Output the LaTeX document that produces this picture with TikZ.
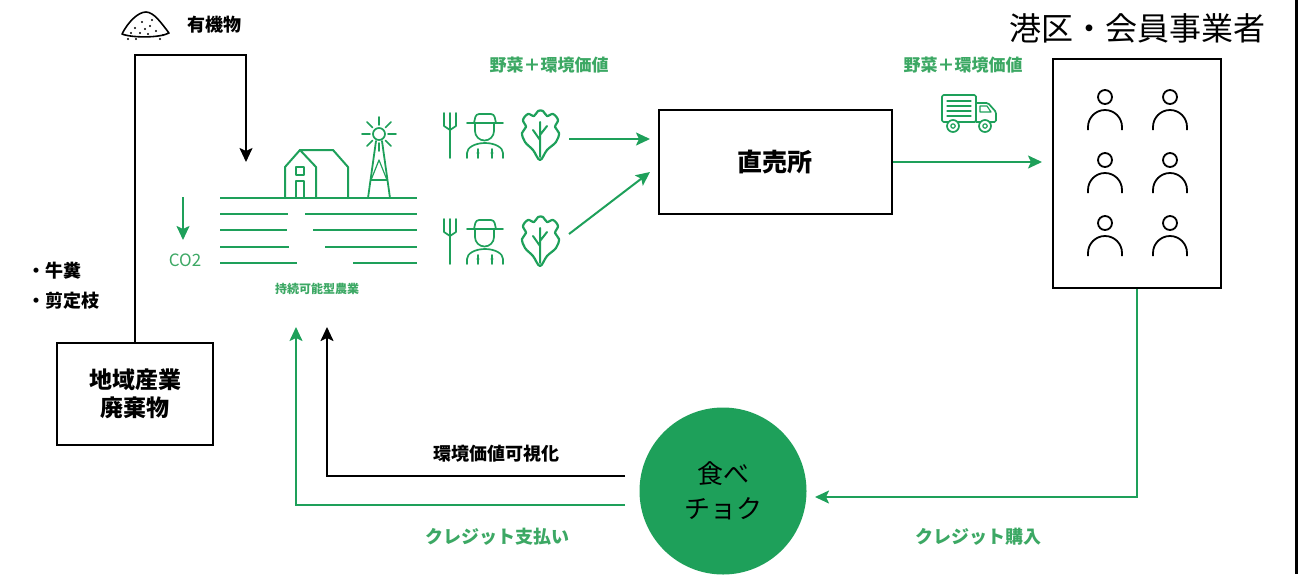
\documentclass[tikz,border=0pt]{standalone}
\usepackage{fontspec}
\newfontfamily\jp{Noto Sans CJK JP}
\usetikzlibrary{arrows.meta}

\definecolor{leaf}{RGB}{30,160,90}
\definecolor{leaftext}{RGB}{60,168,100}

\begin{document}
\begin{tikzpicture}[x=1pt,y=-1pt,
  box/.style={draw,line width=2pt,inner sep=0pt,align=center},
  flow/.style={line width=2pt,-{Stealth[length=14pt,width=13pt,inset=3pt]}},
  icon/.style={leaf,line width=1.7pt,line cap=round,line join=round},
  field/.style={leaf,line width=2.6pt},
  person/.style={line width=1.8pt,line cap=butt},
  lbl/.style={font=\jp\bfseries\fontsize{18}{20}\selectfont},
  glbl/.style={lbl,leaftext}]
\useasboundingbox (0,0) rectangle (1300,574);

% Frame edge
\draw[line width=3pt] (1296,0) -- (1296,574);

% Title
\node[font=\jp\fontsize{32}{36}\selectfont] (title) at (1137,28) {港区・会員事業者};

% Boxes
\node[box,minimum width=156pt,minimum height=102pt,font=\jp\bfseries\fontsize{23}{28}\selectfont] (waste) at (135,394) {地域産業\\廃棄物};
\node[box,minimum width=233pt,minimum height=104pt,font=\jp\bfseries\fontsize{25}{28}\selectfont] (shop) at (775,162) {直売所};
\node[box,minimum width=168pt,minimum height=229pt] (members) at (1137,173.5) {};
\node[circle,fill=leaf,minimum size=167pt,inner sep=0pt,align=center,font=\jp\fontsize{26}{35}\selectfont] (tabechoku) at (723,491) {食べ\\チョク};

% Organic matter pile
\draw[line width=1.6pt,line join=round] (122,34) .. controls (128,22) and (138,12) .. (146,12) .. controls (154,12) and (162,24) .. (169,33) .. controls (160,38) and (132,38) .. cycle;
\foreach \p in {(135,28),(142,22),(150,26),(156,31),(140,33),(148,34),(128,39),(160,39),(145,29),(152,20),(131,33),(163,35),(136,39)}
  \fill \p circle (1.2);
\node[lbl] (organiclbl) at (214,25) {有機物};
\node[lbl,anchor=west] (dung) at (24,271) {・牛糞};
\node[lbl,anchor=west] (prune) at (24,301) {・剪定枝};

% Farm: fields
\draw[field] (220,198) -- (417,198);
\foreach \y/\a/\b in {214/288/305, 230/287/313, 247/289/325, 263/297/353} {
  \draw[field] (220,\y) -- (\a,\y) (\b,\y) -- (417,\y);
}
% Farm: barn
\draw[icon,line width=2pt] (285,198) -- (285,167) -- (300,150) -- (316,167) -- (316,198);
\draw[icon,line width=2pt] (300,150) -- (333,150) -- (348,167) -- (348,198);
\draw[icon,line width=1.8pt] (296,198) -- (296,181) -- (304,181) -- (304,198);
\draw[icon,line width=1.8pt] (296,167) rectangle (304,175);
% Farm: windmill
\draw[icon] (379,134) circle (6);
\foreach \a in {0,45,...,315}
  \draw[icon] ([shift={(\a:9)}]379,134) -- ([shift={(\a:17)}]379,134);
\draw[icon,line width=1.8pt] (376,141) -- (368,198) (382,141) -- (390,198) (371,180) -- (387,180);
\draw[icon,line width=1.2pt] (371,180) -- (379,160) -- (387,180);

\node[font=\jp\fontsize{17}{18}\selectfont,leaftext] (co2) at (185,260) {CO2};
\coordinate (co2top) at (183,197);
\coordinate (co2bot) at (183,240);
\draw[flow,leaf] (co2top) -- (co2bot);
\node[font=\jp\bfseries\fontsize{12}{14}\selectfont,leaftext] (farmlbl) at (317,289) {持続可能型農業};

% Farmers with vegetables
\foreach \dy in {0,106} {
  \begin{scope}[shift={(0,\dy)}]
    % pitchfork
    \draw[icon] (444,113) -- (444,126) -- (450,130) -- (456,126) -- (456,113) (450,113) -- (450,158);
    % farmer
    \draw[icon] (467,123) -- (503,123);
    \draw[icon,rounded corners=3pt] (474,123) -- (476,114) -- (494,114) -- (496,123);
    \draw[icon] (475,123) -- (475,131) arc[start angle=180,end angle=0,radius=9.5] -- (494,123);
    \draw[icon] (467,158) -- (467,153) arc[start angle=180,end angle=360,x radius=18,y radius=10] -- (503,158);
    \draw[icon] (478,149) -- (478,158) (492,149) -- (492,158);
    \fill[leaf] (478,153) circle (1.6) (492,153) circle (1.6);
    % lettuce
    \draw[icon,line width=2.2pt] plot[smooth cycle,tension=0.6] coordinates {(540,160) (533,150) (525,142) (522,133) (526,127) (523,120) (528,114) (534,116) (538,111) (543,111) (547,116) (553,114) (558,120) (555,127) (559,133) (556,142) (547,150)};
    \draw[icon,line width=2pt] (540,157) -- (540,122) (540,140) -- (533,130) (540,135) -- (547,126);
  \end{scope}
}
\coordinate (row1) at (569,139);
\coordinate (row2) at (569,234);
\coordinate (shopin1) at (650,139);
\coordinate (shopin2) at (650,172);
\draw[flow,leaf] (row1) -- (shopin1);
\draw[flow,leaf] (row2) -- (shopin2);
\node[glbl,font=\jp\bfseries\fontsize{17}{20}\selectfont] (veg1) at (549,65) {野菜＋環境価値};

% Delivery
\node[glbl,font=\jp\bfseries\fontsize{17}{20}\selectfont] (veg2) at (963,65) {野菜＋環境価値};
\draw[icon,rounded corners=1.5pt] (942,95) rectangle (976,122);
\foreach \y in {101,106,111,116}
  \draw[icon,line width=1.2pt] (947,\y) -- (971,\y);
\draw[icon,rounded corners=1.5pt] (976,103) -- (988,103) -- (996,112) -- (996,122) -- (976,122);
\draw[icon,line width=1.2pt] (980,106) -- (987,106) -- (991,112) -- (980,112) -- cycle;
\foreach \x in {953,985} {
  \filldraw[icon,fill=white] (\x,126) circle (6);
  \draw[icon,line width=1.2pt] (\x,126) circle (2.2);
}
\draw[flow,leaf,shorten >=10pt] (shop.east) -- (shop.east -| members.west);

% Members
\foreach \cx in {1105,1170} {
  \foreach \hy in {97,160,223} {
    \draw[person] (\cx,\hy) circle (7);
    \draw[person] (\cx-17,\hy+33) -- (\cx-17,\hy+30) arc[start angle=180,end angle=360,radius=17] -- (\cx+17,\hy+33);
  }
}

% Credit flows
\coordinate (buyin) at (815,497);
\draw[flow,leaf,line width=1.8pt] (members.south) |- (buyin);
\node[glbl] (buylbl) at (978,537) {クレジット購入};

\coordinate (visout) at (625,476);
\coordinate (vistip) at (327,327);
\draw[flow] (visout) -| (vistip);
\node[lbl] (vislbl) at (496,454) {環境価値可視化};

\coordinate (payout) at (625,505);
\coordinate (paytip) at (296,327);
\draw[flow,leaf,line width=1.8pt] (payout) -| (paytip);
\node[glbl] (paylbl) at (497,537) {クレジット支払い};

% Waste to farm
\coordinate (organic) at (246,55);
\coordinate (farmin) at (246,162);
\draw[flow] (waste.north) |- (organic) -- (farmin);
\end{tikzpicture}
\end{document}
